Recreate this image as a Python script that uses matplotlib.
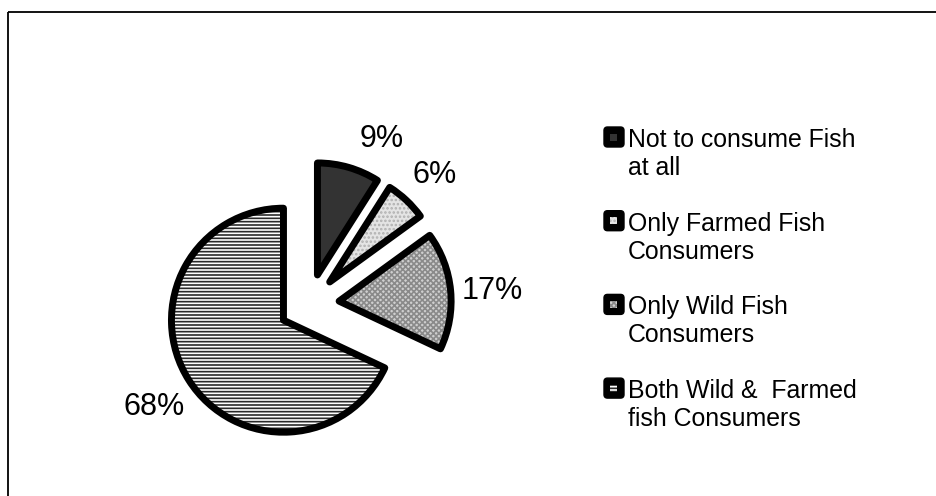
import matplotlib
matplotlib.use("Agg")
import matplotlib.pyplot as plt
from matplotlib.patches import FancyBboxPatch, Rectangle

plt.rcParams['font.family'] = ['Liberation Sans', 'DejaVu Sans']
plt.rcParams['hatch.linewidth'] = 1.2

# data
categories = ["Not to consume Fish\nat all",
              "Only Farmed Fish\nConsumers",
              "Only Wild Fish\nConsumers",
              "Both Wild &  Farmed\nfish Consumers"]
shares = [9, 6, 17, 68]

# styles per slice
face_colors = ['#333333', '#e4e4e4', '#cfcfcf', 'white']
hatch_colors = ['#333333', '#b0b0b0', '#8a8a8a', '#2a2a2a']
hatches = [None, '....', 'xxxxxx', '-----']

W, H = 937, 496
fig = plt.figure(figsize=(W / 100, H / 100), dpi=100)

# pie axes: one data unit = pie radius (112 px), pie centre at (309, 192) px
R = 112.0
cx, cy = 309.0, 192.0
ax = fig.add_axes([0, 0, 1, 1])

explode = [0.27] * len(shares)

# fill + hatch layer
fills, _ = ax.pie(shares, explode=explode, startangle=90, counterclock=False,
                  colors=face_colors, radius=1,
                  wedgeprops=dict(linewidth=0))
for w, hc, h in zip(fills, hatch_colors, hatches):
    w.set_edgecolor(hc)
    w.set_linewidth(0)
    if h:
        w.set_hatch(h)

# outline layer with percentage labels
outlines, _, pct = ax.pie(shares, explode=explode, startangle=90, counterclock=False,
                          radius=1, autopct=lambda p: f'{p:.0f}%', pctdistance=1.37,
                          wedgeprops=dict(facecolor='none', edgecolor='black',
                                          linewidth=5, joinstyle='round'),
                          textprops=dict(fontsize=22, color='black'))
# labels sit slightly lower than the pie default; the top one also further right
for t in pct:
    x0, y0 = t.get_position()
    t.set_position((x0, y0 - 0.04))
x0, y0 = pct[0].get_position()
pct[0].set_position((x0 + 0.19, y0 - 0.06))

# pie() resets the limits, so set them afterwards
ax.set_aspect('auto')
ax.set_xlim(-cx / R, (W - cx) / R)
ax.set_ylim(-cy / R, (H - cy) / R)
ax.axis('off')

# overlay axes in pixel coordinates for legend and frame
ov = fig.add_axes([0, 0, 1, 1])
ov.set_xlim(0, W)
ov.set_ylim(H, 0)
ov.axis('off')
ov.patch.set_alpha(0)

ov.add_patch(Rectangle((8, 12), W, H, fill=False, edgecolor='black', linewidth=1.3))

first_line_y = 140
entry_gap = 83.7
line_gap = 28
for i, label in enumerate(categories):
    ty = first_line_y + i * entry_gap
    mk_y = ty - 3
    ov.add_patch(FancyBboxPatch((604, mk_y - 10), 20, 20,
                                boxstyle="round,pad=0,rounding_size=3.5",
                                facecolor='black', edgecolor='black', linewidth=1))
    inner = Rectangle((610.5, mk_y - 3.5), 7, 7, facecolor=face_colors[i],
                      edgecolor=hatch_colors[i], linewidth=0)
    if hatches[i]:
        inner.set_hatch(hatches[i])
    ov.add_patch(inner)
    for j, line in enumerate(label.split('\n')):
        ov.text(628, ty + j * line_gap, line, fontsize=17.9, va='center', ha='left')

fig.savefig('out.png', dpi=100, facecolor='white')
